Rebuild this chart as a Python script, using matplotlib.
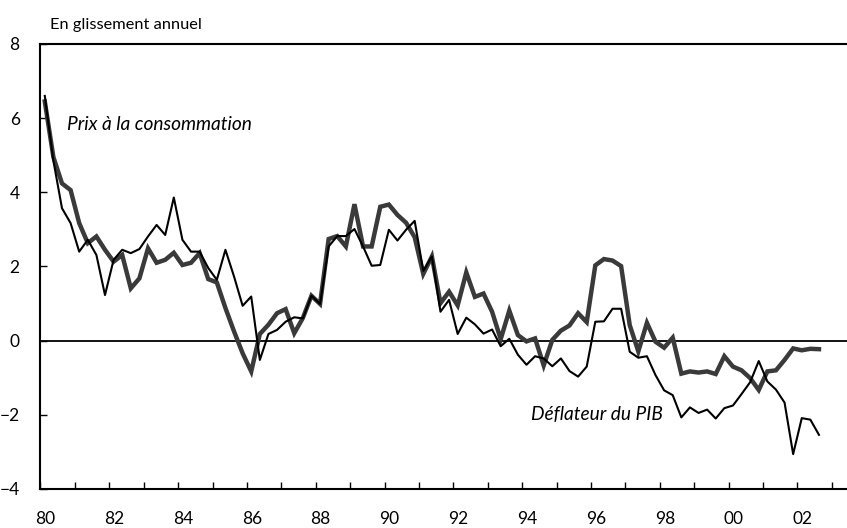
import numpy as np
import matplotlib
matplotlib.use("Agg")
from matplotlib import pyplot as plt
from matplotlib.transforms import ScaledTranslation

plt.rcParams['font.family'] = ['Lato', 'DejaVu Sans']

# Quarterly data, 1980Q1 - 2002Q3 (year-on-year, %)
start_year = 1980
deflateur_pib = [
    6.60, 4.85, 3.57, 3.17, 2.40, 2.72, 2.31, 1.23, 2.18, 2.45, 2.36, 2.47,
    2.81, 3.12, 2.85, 3.86, 2.72, 2.40, 2.40, 1.96, 1.64, 2.45, 1.73, 0.94,
    1.19, -0.52, 0.18, 0.29, 0.51, 0.63, 0.60, 1.21, 0.99, 2.54, 2.82, 2.82,
    3.01, 2.54, 2.02, 2.04, 2.99, 2.70, 2.99, 3.23, 1.88, 2.27, 0.78, 1.10,
    0.18, 0.62, 0.44, 0.19, 0.30, -0.15, 0.05, -0.38, -0.65, -0.42, -0.48, -0.69,
    -0.48, -0.82, -0.97, -0.70, 0.51, 0.52, 0.86, 0.86, -0.30, -0.46, -0.42, -0.93,
    -1.34, -1.47, -2.07, -1.80, -1.95, -1.86, -2.10, -1.82, -1.75, -1.44, -1.12, -0.55,
    -1.10, -1.32, -1.67, -3.06, -2.09, -2.13, -2.54,
]
prix_conso = [
    6.45, 4.95, 4.24, 4.06, 3.17, 2.63, 2.81, 2.45, 2.13, 2.31, 1.41, 1.68,
    2.49, 2.10, 2.18, 2.37, 2.04, 2.10, 2.36, 1.66, 1.57, 0.88, 0.25, -0.34,
    -0.83, 0.18, 0.43, 0.74, 0.85, 0.20, 0.61, 1.21, 0.99, 2.74, 2.82, 2.54,
    3.68, 2.54, 2.54, 3.61, 3.67, 3.39, 3.18, 2.79, 1.80, 2.27, 1.01, 1.32,
    0.95, 1.84, 1.18, 1.27, 0.78, 0.04, 0.81, 0.15, -0.02, 0.06, -0.67, 0.02,
    0.27, 0.41, 0.74, 0.50, 2.03, 2.20, 2.16, 2.01, 0.42, -0.29, 0.48, -0.03,
    -0.19, 0.08, -0.89, -0.83, -0.86, -0.83, -0.90, -0.42, -0.70, -0.80, -1.01, -1.33,
    -0.83, -0.80, -0.52, -0.21, -0.26, -0.22, -0.23,
]
year_ticks = list(range(1980, 2004))
year_labels = ['80', '', '82', '', '84', '', '86', '', '88', '', '90', '', '92', '',
               '94', '', '96', '', '98', '', '00', '', '02', '']
y_ticks = [-4, -2, 0, 2, 4, 6, 8]

# quarter mid-points
x = start_year + (np.arange(len(prix_conso)) + 0.5) / 4

fig = plt.figure(figsize=(8.47, 5.28), dpi=100)
ax = fig.add_axes([0.0478, 0.0739, 0.9522, 0.8428])

ax.axhline(0, color='black', lw=1.3, zorder=1)
ax.plot(x, prix_conso, color='#3a3a3a', lw=3.2, solid_joinstyle='miter', zorder=2)
ax.plot(x, deflateur_pib, color='black', lw=1.5, zorder=3)

ax.set_xlim(1980, 2003.44)
ax.set_ylim(-4, 8)
ax.set_xticks(year_ticks)
ax.set_xticklabels(year_labels)
ax.set_yticks(y_ticks)
ax.tick_params(direction='in', length=5, width=1, labelsize=12.5)
ax.tick_params(axis='x', pad=16)
ax.tick_params(axis='y', pad=15)
for lab in ax.get_xticklabels():
    lab.set_transform(lab.get_transform() + ScaledTranslation(5 / 100, 0, fig.dpi_scale_trans))

for side in ['left', 'bottom', 'top']:
    ax.spines[side].set_linewidth(1.5)
ax.spines['right'].set_visible(False)

fig.text(50 / 847, 1 - 25 / 528, 'En glissement annuel', fontsize=11.8, va='center', ha='left')
ax.text(1980.77, 5.82, 'Prix à la consommation', fontsize=13.8, style='italic', va='center', ha='left')
ax.text(1994.25, -2.0, 'Déflateur du PIB', fontsize=13.8, style='italic', va='center', ha='left')

fig.savefig('out.png', dpi=100)
